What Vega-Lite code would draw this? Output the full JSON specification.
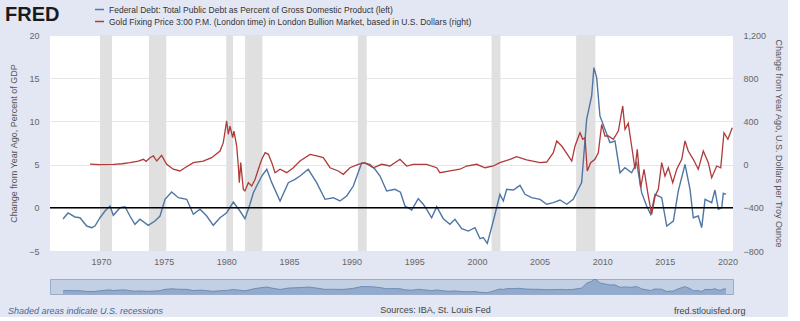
{
  "$schema": "https://vega.github.io/schema/vega-lite/v6.json",
  "background": "#e3e6f3",
  "padding": {"left": 5, "top": 4, "right": 5, "bottom": 0},
  "config": {
    "font": "Liberation Sans",
    "view": {"stroke": null},
    "axis": {"labelColor": "#666666", "labelFontSize": 9, "titleColor": "#555555", "titleFontSize": 9, "titleFontWeight": "normal", "ticks": false, "domain": false},
    "title": {"fontSize": 9, "fontWeight": "normal"}
  },
  "datasets": {
    "rec": [
      {"start": 1969.92, "end": 1970.88},
      {"start": 1973.83, "end": 1975.21},
      {"start": 1980.0, "end": 1980.54},
      {"start": 1981.5, "end": 1982.88},
      {"start": 1990.5, "end": 1991.21},
      {"start": 2001.17, "end": 2001.88},
      {"start": 2007.92, "end": 2009.46}
    ],
    "debt": [
      {"t": 1966.97, "v": -1.3}, {"t": 1967.37, "v": -0.6}, {"t": 1967.92, "v": -1.06}, {"t": 1968.32, "v": -1.15},
      {"t": 1968.86, "v": -2.11}, {"t": 1969.26, "v": -2.3}, {"t": 1969.52, "v": -2.11}, {"t": 1969.92, "v": -1.15},
      {"t": 1970.32, "v": -0.37}, {"t": 1970.72, "v": 0.21}, {"t": 1970.98, "v": -0.87}, {"t": 1971.52, "v": 0.01},
      {"t": 1971.92, "v": 0.13}, {"t": 1972.31, "v": -0.95}, {"t": 1972.71, "v": -1.91}, {"t": 1973.11, "v": -1.33},
      {"t": 1973.77, "v": -2.03}, {"t": 1974.31, "v": -1.53}, {"t": 1974.71, "v": -0.95}, {"t": 1975.11, "v": 0.98},
      {"t": 1975.64, "v": 1.83}, {"t": 1976.17, "v": 1.17}, {"t": 1976.84, "v": 0.98}, {"t": 1977.37, "v": -0.75},
      {"t": 1977.9, "v": -0.17}, {"t": 1978.44, "v": -0.95}, {"t": 1978.96, "v": -2.03}, {"t": 1979.5, "v": -1.15},
      {"t": 1980.03, "v": -0.57}, {"t": 1980.56, "v": 0.67}, {"t": 1981.09, "v": -0.37}, {"t": 1981.49, "v": -1.26},
      {"t": 1981.89, "v": 0.41}, {"t": 1982.16, "v": 1.75}, {"t": 1982.83, "v": 3.68}, {"t": 1983.23, "v": 4.46},
      {"t": 1983.63, "v": 2.91}, {"t": 1984.29, "v": 0.79}, {"t": 1984.95, "v": 2.91}, {"t": 1985.48, "v": 3.3},
      {"t": 1985.88, "v": 3.68}, {"t": 1986.54, "v": 4.46}, {"t": 1987.21, "v": 2.91}, {"t": 1987.88, "v": 0.98},
      {"t": 1988.54, "v": 1.17}, {"t": 1989.07, "v": 0.79}, {"t": 1989.61, "v": 1.37}, {"t": 1990.14, "v": 2.52},
      {"t": 1990.81, "v": 5.22}, {"t": 1991.47, "v": 5.03}, {"t": 1991.87, "v": 4.46}, {"t": 1992.27, "v": 3.68},
      {"t": 1992.8, "v": 1.94}, {"t": 1993.46, "v": 2.14}, {"t": 1993.9, "v": 1.8}, {"t": 1994.26, "v": 0.21},
      {"t": 1994.8, "v": -0.25}, {"t": 1995.32, "v": 1.05}, {"t": 1995.72, "v": 0.41}, {"t": 1995.99, "v": -0.17},
      {"t": 1996.39, "v": -1.15}, {"t": 1996.79, "v": 0.13}, {"t": 1997.32, "v": -1.26}, {"t": 1997.85, "v": -1.91},
      {"t": 1998.25, "v": -1.33}, {"t": 1998.79, "v": -2.42}, {"t": 1999.31, "v": -2.69}, {"t": 1999.85, "v": -2.3},
      {"t": 2000.25, "v": -3.58}, {"t": 2000.51, "v": -3.46}, {"t": 2000.83, "v": -4.11}, {"t": 2001.31, "v": -1.53},
      {"t": 2001.84, "v": 1.56}, {"t": 2002.11, "v": 0.79}, {"t": 2002.38, "v": 2.14}, {"t": 2002.91, "v": 2.06},
      {"t": 2003.44, "v": 2.6}, {"t": 2003.84, "v": 1.56}, {"t": 2004.37, "v": 1.17}, {"t": 2005.04, "v": 0.98},
      {"t": 2005.57, "v": 0.41}, {"t": 2006.1, "v": 0.59}, {"t": 2006.63, "v": 0.9}, {"t": 2007.17, "v": 0.41},
      {"t": 2007.69, "v": 0.98}, {"t": 2008.09, "v": 2.14}, {"t": 2008.36, "v": 2.91}, {"t": 2008.76, "v": 10.24},
      {"t": 2009.16, "v": 12.94}, {"t": 2009.34, "v": 16.22}, {"t": 2009.56, "v": 15.06}, {"t": 2009.82, "v": 10.63},
      {"t": 2010.22, "v": 9.09}, {"t": 2010.62, "v": 7.55}, {"t": 2011.02, "v": 7.73}, {"t": 2011.42, "v": 4.06},
      {"t": 2011.82, "v": 4.64}, {"t": 2012.35, "v": 4.06}, {"t": 2012.75, "v": 5.22}, {"t": 2013.15, "v": 1.75},
      {"t": 2013.55, "v": 0.21}, {"t": 2013.87, "v": -0.75}, {"t": 2014.22, "v": 1.56}, {"t": 2014.75, "v": 1.17},
      {"t": 2015.15, "v": -2.11}, {"t": 2015.68, "v": -1.53}, {"t": 2016.07, "v": 1.94}, {"t": 2016.61, "v": 5.03},
      {"t": 2017.01, "v": 2.14}, {"t": 2017.27, "v": -1.15}, {"t": 2017.67, "v": -0.95}, {"t": 2017.94, "v": -2.3},
      {"t": 2018.21, "v": 0.98}, {"t": 2018.74, "v": 0.59}, {"t": 2019.0, "v": 2.06}, {"t": 2019.27, "v": -0.17},
      {"t": 2019.54, "v": 0.01}, {"t": 2019.67, "v": 1.68}, {"t": 2019.88, "v": 1.56}
    ],
    "gold": [
      {"t": 1969.12, "v": 5}, {"t": 1969.92, "v": 0}, {"t": 1970.98, "v": 3}, {"t": 1971.7, "v": 8},
      {"t": 1972.31, "v": 18}, {"t": 1972.98, "v": 33}, {"t": 1973.38, "v": 49}, {"t": 1973.6, "v": 30},
      {"t": 1973.91, "v": 64}, {"t": 1974.18, "v": 80}, {"t": 1974.45, "v": 33}, {"t": 1974.84, "v": 86},
      {"t": 1975.24, "v": 3}, {"t": 1975.77, "v": -43}, {"t": 1976.3, "v": -59}, {"t": 1976.7, "v": -29},
      {"t": 1977.37, "v": 18}, {"t": 1978.16, "v": 33}, {"t": 1978.83, "v": 64}, {"t": 1979.5, "v": 126},
      {"t": 1979.76, "v": 203}, {"t": 1980.03, "v": 404}, {"t": 1980.16, "v": 281}, {"t": 1980.3, "v": 357},
      {"t": 1980.51, "v": 249}, {"t": 1980.61, "v": 311}, {"t": 1980.83, "v": 172}, {"t": 1980.96, "v": -13},
      {"t": 1981.04, "v": -168}, {"t": 1981.15, "v": 18}, {"t": 1981.36, "v": -229}, {"t": 1981.49, "v": -244},
      {"t": 1981.76, "v": -168}, {"t": 1982.03, "v": -198}, {"t": 1982.3, "v": -136}, {"t": 1982.56, "v": -43},
      {"t": 1982.83, "v": 49}, {"t": 1983.1, "v": 110}, {"t": 1983.36, "v": 95}, {"t": 1983.63, "v": 18},
      {"t": 1983.89, "v": -75}, {"t": 1984.29, "v": -43}, {"t": 1984.82, "v": -75}, {"t": 1985.35, "v": -29},
      {"t": 1985.88, "v": 33}, {"t": 1986.68, "v": 95}, {"t": 1987.21, "v": 80}, {"t": 1987.74, "v": 64},
      {"t": 1988.28, "v": -29}, {"t": 1988.94, "v": -59}, {"t": 1989.34, "v": -90}, {"t": 1989.87, "v": -29},
      {"t": 1990.53, "v": 3}, {"t": 1991.07, "v": 18}, {"t": 1991.73, "v": -29}, {"t": 1992.4, "v": 3},
      {"t": 1993.06, "v": -13}, {"t": 1993.86, "v": 49}, {"t": 1994.4, "v": -13}, {"t": 1994.92, "v": 3},
      {"t": 1995.99, "v": 3}, {"t": 1996.79, "v": -29}, {"t": 1997.05, "v": -75}, {"t": 1997.85, "v": -59},
      {"t": 1998.65, "v": -43}, {"t": 1999.18, "v": -13}, {"t": 1999.98, "v": 3}, {"t": 2000.65, "v": -29},
      {"t": 2001.31, "v": -13}, {"t": 2001.84, "v": 18}, {"t": 2002.64, "v": 49}, {"t": 2003.17, "v": 73},
      {"t": 2003.97, "v": 43}, {"t": 2005.04, "v": 18}, {"t": 2005.57, "v": 24}, {"t": 2006.1, "v": 110},
      {"t": 2006.37, "v": 219}, {"t": 2006.77, "v": 172}, {"t": 2007.3, "v": 80}, {"t": 2007.57, "v": 33},
      {"t": 2007.83, "v": 172}, {"t": 2008.23, "v": 295}, {"t": 2008.45, "v": 234}, {"t": 2008.63, "v": 249},
      {"t": 2008.81, "v": -59}, {"t": 2009.08, "v": 18}, {"t": 2009.42, "v": 49}, {"t": 2009.69, "v": 110},
      {"t": 2009.96, "v": 373}, {"t": 2010.22, "v": 265}, {"t": 2010.49, "v": 265}, {"t": 2010.89, "v": 234},
      {"t": 2011.29, "v": 311}, {"t": 2011.64, "v": 543}, {"t": 2011.82, "v": 327}, {"t": 2012.08, "v": 382},
      {"t": 2012.35, "v": 172}, {"t": 2012.62, "v": -43}, {"t": 2012.8, "v": 142}, {"t": 2013.07, "v": -214},
      {"t": 2013.34, "v": -43}, {"t": 2013.68, "v": -291}, {"t": 2013.95, "v": -460}, {"t": 2014.22, "v": -291},
      {"t": 2014.48, "v": -229}, {"t": 2014.75, "v": 18}, {"t": 2015.01, "v": -106}, {"t": 2015.28, "v": -29},
      {"t": 2015.63, "v": -168}, {"t": 2015.95, "v": -43}, {"t": 2016.35, "v": 49}, {"t": 2016.61, "v": 219},
      {"t": 2016.87, "v": 126}, {"t": 2017.27, "v": 49}, {"t": 2017.67, "v": -43}, {"t": 2018.07, "v": 126},
      {"t": 2018.47, "v": 18}, {"t": 2018.74, "v": -121}, {"t": 2019.14, "v": -13}, {"t": 2019.46, "v": -29},
      {"t": 2019.72, "v": 295}, {"t": 2020.03, "v": 234}, {"t": 2020.38, "v": 342}
    ]
  },
  "title": {"text": "fred.stlouisfed.org", "orient": "bottom", "anchor": "end", "color": "#444444", "dx": -37, "offset": -10},
  "vconcat": [
    {
      "width": 683,
      "height": 216,
      "view": {"fill": "white"},
      "layer": [
        {
          "layer": [
            {
              "data": {"name": "rec"},
              "mark": {"type": "rect", "color": "#e0e0e0"},
              "encoding": {
                "x": {"field": "start", "type": "quantitative", "title": null,
                  "scale": {"domain": [1965.93, 2020.44], "nice": false, "zero": false},
                  "axis": {"values": [1970, 1975, 1980, 1985, 1990, 1995, 2000, 2005, 2010, 2015, 2020], "format": "d", "grid": false, "labelPadding": 6}},
                "x2": {"field": "end"}
              }
            },
            {
              "data": {"name": "debt"},
              "mark": {"type": "line", "strokeWidth": 1.4},
              "encoding": {
                "x": {"field": "t", "type": "quantitative", "title": null},
                "y": {"field": "v", "type": "quantitative",
                  "scale": {"domain": [-5, 20], "nice": false, "zero": false},
                  "axis": {"orient": "left", "values": [-5, 0, 5, 10, 15, 20], "grid": true, "gridColor": "#e6e6e6", "labelPadding": 11, "title": "Change from Year Ago, Percent of GDP", "titlePadding": 10}},
                "color": {"datum": "Federal Debt: Total Public Debt as Percent of Gross Domestic Product (left)", "type": "nominal",
                  "scale": {"domain": ["Federal Debt: Total Public Debt as Percent of Gross Domestic Product (left)", "Gold Fixing Price 3:00 P.M. (London time) in London Bullion Market, based in U.S. Dollars (right)"], "range": ["#4f76a4", "#b03a3a"]},
                  "legend": {"orient": "none", "legendX": -45, "legendY": -31, "title": "FRED", "titleOrient": "left", "titleFontSize": 20, "titleFontWeight": 900, "titleColor": "#1b1b1b", "titlePadding": 34, "symbolType": "stroke", "symbolStrokeWidth": 1.5, "symbolSize": 80, "labelFontSize": 8.5, "labelColor": "#333333", "labelLimit": 700, "rowPadding": 2, "direction": "vertical"}}
              }
            },
            {
              "data": {"values": [{}]},
              "mark": {"type": "rule", "color": "black", "strokeWidth": 1.5},
              "encoding": {"y": {"datum": 0}}
            }
          ]
        },
        {
          "data": {"name": "gold"},
          "mark": {"type": "line", "strokeWidth": 1.3},
          "encoding": {
            "x": {"field": "t", "type": "quantitative", "title": null},
            "y": {"field": "v", "type": "quantitative",
              "scale": {"domain": [-800, 1200], "nice": false, "zero": false},
              "axis": {"orient": "right", "values": [-800, -400, 0, 400, 800, 1200], "format": ",d", "grid": false, "labelPadding": 10, "title": "Change from Year Ago, U.S. Dollars per Troy Ounce", "titleAngle": 90, "titlePadding": 8}},
            "color": {"datum": "Gold Fixing Price 3:00 P.M. (London time) in London Bullion Market, based in U.S. Dollars (right)", "type": "nominal"}
          }
        }
      ],
      "resolve": {"scale": {"y": "independent"}}
    },
    {
      "width": 683,
      "height": 15,
      "view": {"fill": "#c3d0e4", "stroke": "#9aaecb"},
      "data": {"name": "debt"},
      "mark": {"type": "area", "color": "#7d9bc3", "clip": true, "line": {"color": "#5f80ad", "strokeWidth": 0.8}},
      "encoding": {
        "x": {"field": "t", "type": "quantitative",
          "scale": {"domain": [1965.93, 2020.44], "nice": false, "zero": false},
          "axis": {"labels": false, "grid": false, "title": "Sources: IBA, St. Louis Fed", "titleX": 385, "titleColor": "#444444", "titlePadding": 11}},
        "y": {"field": "v", "type": "quantitative", "scale": {"domain": [-6, 16.5], "nice": false, "zero": false}, "axis": null},
        "y2": {"datum": -6}
      },
      "title": {"text": "Shaded areas indicate U.S. recessions", "orient": "bottom", "anchor": "start", "dx": -42, "offset": -7, "fontStyle": "italic", "color": "#46679a"}
    }
  ],
  "spacing": 12
}
